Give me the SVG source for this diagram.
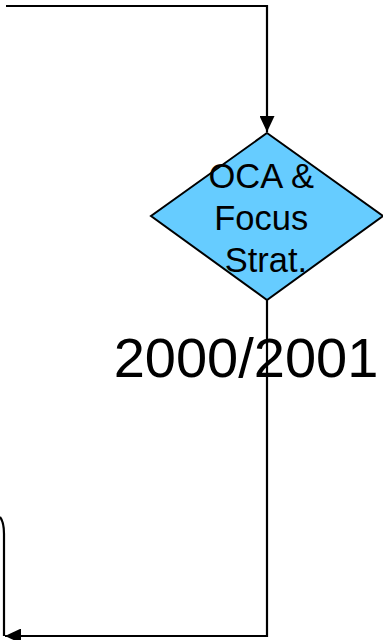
<svg xmlns="http://www.w3.org/2000/svg" width="383" height="640" viewBox="0 0 383 640">
  <style>
    .wire { fill: none; stroke: #000; stroke-width: 2.2; }
    .decision { fill: #66CCFF; stroke: #000; stroke-width: 2; }
    .label { font-family: "Liberation Sans", Arial, sans-serif; fill: #000; text-anchor: middle; }
  </style>
  <defs>
    <marker id="arrow" viewBox="0 0 16 15" refX="16" refY="7.5" markerWidth="16" markerHeight="15" markerUnits="userSpaceOnUse" orient="auto">
      <path d="M0,0 L16,7.5 L0,15 Z" fill="#000"/>
    </marker>
  </defs>

  <rect width="383" height="640" fill="#fff"/>

  <!-- connectors -->
  <g id="connectors">
    <path class="wire" d="M6,6 H267 V132" marker-end="url(#arrow)"/>
    <path class="wire" d="M267,300 V636 H5" marker-end="url(#arrow)"/>
    <path class="wire" d="M0,517 Q4,522 4,534 V636"/>
  </g>

  <!-- decision node -->
  <g id="oca-focus">
    <polygon class="decision" points="267,133 383,216 267,300 151,216"/>
    <text class="label" font-size="34.5">
      <tspan x="266" y="188">OCA &amp;</tspan>
      <tspan x="266" y="230">Focus</tspan>
      <tspan x="266" y="272">Strat.</tspan>
    </text>
  </g>

  <!-- year label -->
  <g id="year">
    <text class="label" font-size="56" x="246" y="377">2000/2001</text>
  </g>
</svg>
